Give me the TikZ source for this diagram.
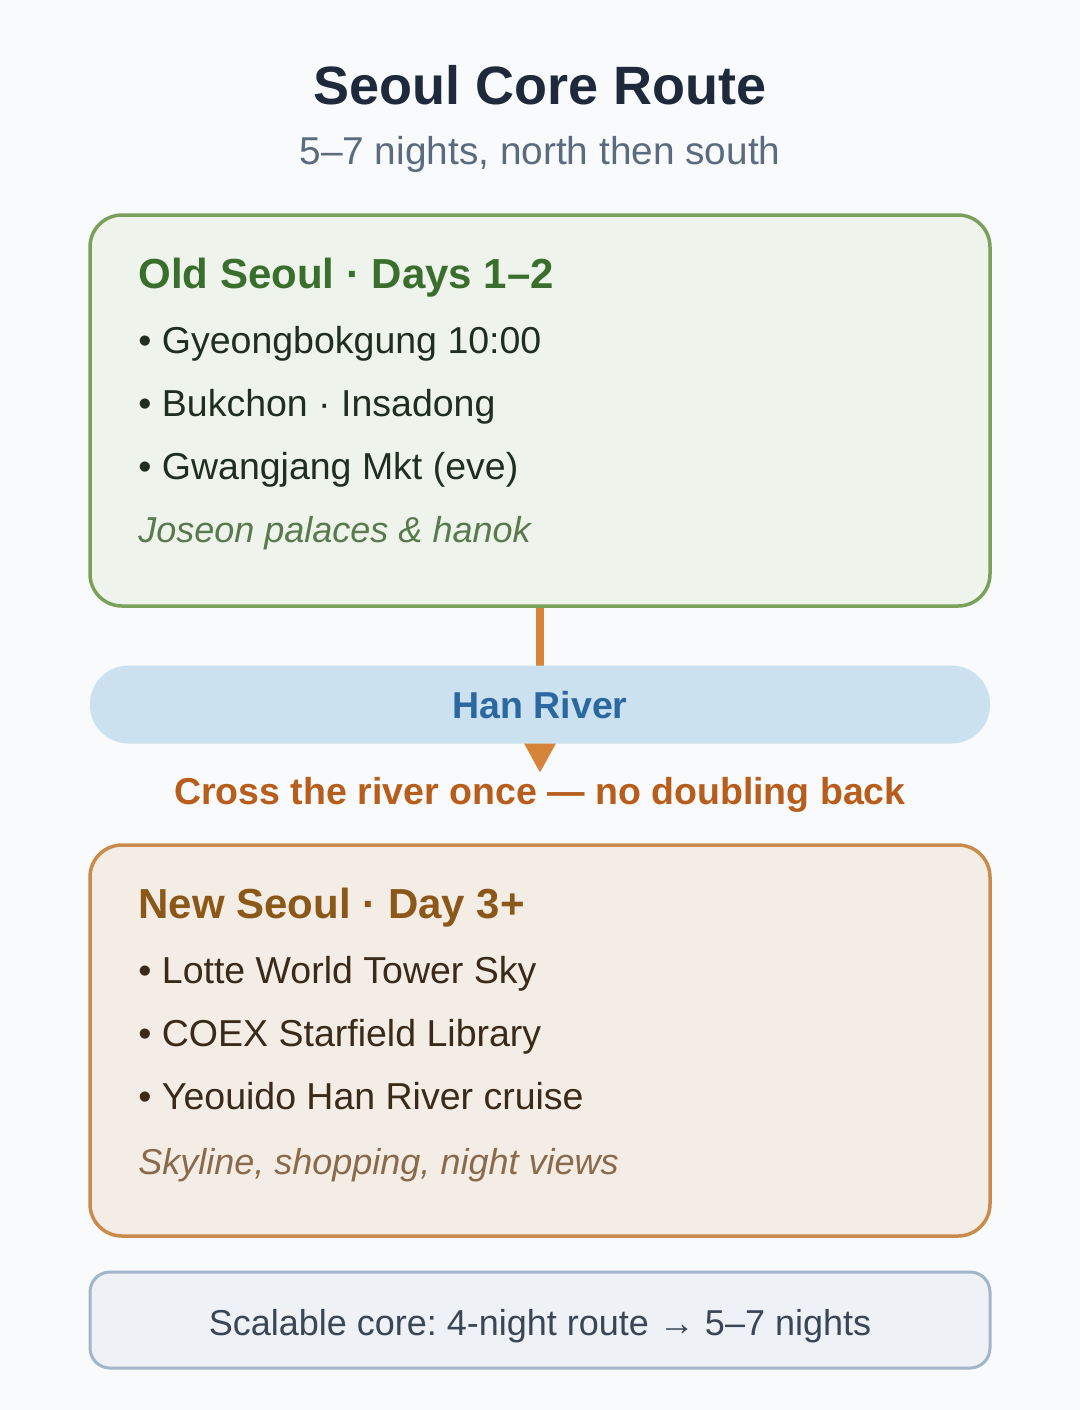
\documentclass[tikz,border=0pt]{standalone}
\usepackage{fontspec}
\setmainfont{Liberation Sans}
\usetikzlibrary{arrows.meta}
\frenchspacing
\definecolor{bgc}{HTML}{F8FAFC}
\definecolor{titlec}{HTML}{1E293B}
\definecolor{subc}{HTML}{5B6B7F}
\definecolor{gstroke}{HTML}{7BA05B}
\definecolor{gfill}{HTML}{EEF4EB}
\definecolor{ghead}{HTML}{3A6E2C}
\definecolor{gtext}{HTML}{1F2E1F}
\definecolor{gital}{HTML}{587A4E}
\definecolor{ostroke}{HTML}{C98A4B}
\definecolor{ofill}{HTML}{F4EDE6}
\definecolor{ohead}{HTML}{8B581A}
\definecolor{otext}{HTML}{3A2A1A}
\definecolor{oital}{HTML}{8A6A4A}
\definecolor{riverfill}{HTML}{CCE1EF}
\definecolor{rivertext}{HTML}{2B68A0}
\definecolor{arrowc}{HTML}{D6843A}
\definecolor{crossc}{HTML}{B85E1C}
\definecolor{bstroke}{HTML}{A3B5C8}
\definecolor{bfill}{HTML}{EEF2F7}
\definecolor{btext}{HTML}{3A4656}
\begin{document}
\begin{tikzpicture}[x=0.5pt,y=-0.5pt,
  panel/.style={draw, line width=1.75pt, rounded corners=16pt, minimum width=450pt, minimum height=195.5pt, inner sep=0pt},
  heading/.style={anchor=base west, inner sep=0pt, font=\fontsize{21}{25}\selectfont\bfseries},
  item/.style={anchor=base west, inner sep=0pt, font=\fontsize{18.75}{22}\selectfont},
  note/.style={anchor=base west, inner sep=0pt, font=\fontsize{18}{22}\selectfont\itshape},
  centertext/.style={anchor=base, inner sep=0pt}
]
\useasboundingbox[fill=bgc] (0,0) rectangle (1080,1410);

\node[centertext, text=titlec, font=\fontsize{27}{32}\selectfont\bfseries] (title) at (540,104) {Seoul Core Route};
\node[centertext, text=subc, font=\fontsize{19.4}{23}\selectfont] (subtitle) at (540,164) {5–7 nights, north then south};

% Old Seoul panel
\node[panel, draw=gstroke, fill=gfill] (oldbox) at (540,410.5) {};
\node[heading, text=ghead] (oldhead) at (138,288) {Old Seoul · Days 1–2};
\node[item, text=gtext] (old1) at (138,353) {• Gyeongbokgung 10:00};
\node[item, text=gtext] (old2) at (138,416) {• Bukchon · Insadong};
\node[item, text=gtext] (old3) at (138,479) {• Gwangjang Mkt (eve)};
\node[note, text=gital] (oldnote) at (138,542) {Joseon palaces \& hanok};

% connector crossing the river
\coordinate (tip) at (540,773);
\draw[arrowc, line width=4pt, -{Triangle[width=15pt,length=15pt]}] (oldbox.south) -- (tip);

% river band
\node[fill=riverfill, rounded corners=19.25pt, minimum width=450pt, minimum height=39pt, inner sep=0pt] (river) at (540,704.5) {};
\node[centertext, text=rivertext, font=\fontsize{18.75}{22}\selectfont\bfseries] (rivertxt) at (540,718) {Han River};

\node[centertext, text=crossc, font=\fontsize{18.75}{22}\selectfont\bfseries] (cross) at (540,804) {Cross the river once — no doubling back};

% New Seoul panel
\node[panel, draw=ostroke, fill=ofill] (newbox) at (540,1040.5) {};
\node[heading, text=ohead] (newhead) at (138,918) {New Seoul · Day 3+};
\node[item, text=otext] (new1) at (138,983) {• Lotte World Tower Sky};
\node[item, text=otext] (new2) at (138,1046) {• COEX Starfield Library};
\node[item, text=otext] (new3) at (138,1109) {• Yeouido Han River cruise};
\node[note, text=oital] (newnote) at (138,1174) {Skyline, shopping, night views};

% bottom box
\node[draw=bstroke, fill=bfill, line width=1.5pt, rounded corners=10pt, minimum width=450pt, minimum height=48pt, inner sep=0pt] (footbox) at (540,1320) {};
\node[centertext, text=btext, font=\fontsize{18}{22}\selectfont] (foot) at (540,1335) {Scalable core: 4-night route → 5–7 nights};
\end{tikzpicture}
\end{document}
